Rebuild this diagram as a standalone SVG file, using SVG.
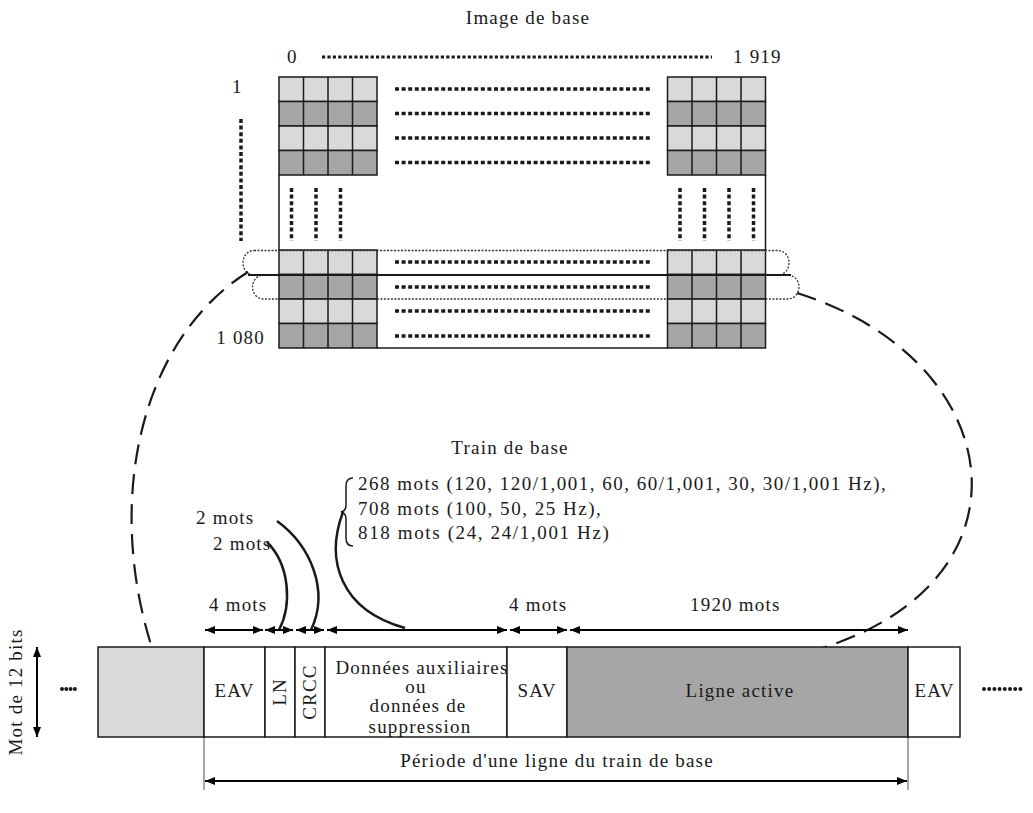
<svg xmlns="http://www.w3.org/2000/svg" width="1033" height="813" viewBox="0 0 1033 813">
<style>
text{font-family:"Liberation Serif","Times New Roman",serif;font-size:19px;fill:#1a1a1a;letter-spacing:1.2px}
.lt{fill:#d9d9d9;stroke:#1a1a1a;stroke-width:1.5}
.dk{fill:#a6a6a6;stroke:#1a1a1a;stroke-width:1.5}
.gl{stroke:#1a1a1a;stroke-width:1.5;fill:none}
.rowdot{stroke:#1a1a1a;stroke-width:3.5;stroke-dasharray:4 2.6;fill:none}
.vdot{stroke:#1a1a1a;stroke-width:3.5;stroke-dasharray:4 2.6;fill:none}
.loop{fill:none;stroke:#333;stroke-width:1.3;stroke-dasharray:2 1.5}
.dash{fill:none;stroke:#1a1a1a;stroke-width:2.2;stroke-dasharray:20 10}
.lead{fill:none;stroke:#1a1a1a;stroke-width:2.5}
.arr{stroke:#000;stroke-width:2;fill:none;marker-start:url(#ah);marker-end:url(#ah)}
.box{stroke:#1a1a1a;stroke-width:1.5}
.tick{stroke:#777;stroke-width:1.3}
.mid{text-anchor:middle}
</style>
<defs>
<marker id="ah" viewBox="0 0 10 8" refX="10" refY="4" markerWidth="10" markerHeight="8" markerUnits="userSpaceOnUse" orient="auto-start-reverse">
<path d="M0,0 L10,4 L0,8 Z" fill="#000"/>
</marker>
</defs>

<g id="image-de-base">
<text class="mid" x="528" y="24">Image de base</text>
<text x="287" y="63">0</text>
<text x="733" y="63">1 919</text>
<line x1="322" y1="57" x2="712" y2="57" stroke="#1a1a1a" stroke-width="3" stroke-dasharray="3.2 2.2"/>
<text x="232" y="93">1</text>
<line x1="241" y1="119" x2="241" y2="241" class="vdot"/>
<text x="265" y="344" text-anchor="end">1 080</text>

<path class="gl" d="M279,175 V250 M765.5,175 V250 M377,348 H667.5"/>

<g id="block-tl">
<rect class="lt" x="279" y="77" width="98" height="24.5"/>
<rect class="dk" x="279" y="101.5" width="98" height="24.5"/>
<rect class="lt" x="279" y="126" width="98" height="24.5"/>
<rect class="dk" x="279" y="150.5" width="98" height="24.5"/>
<path class="gl" d="M303.5,77 V175 M328,77 V175 M352.5,77 V175"/>
</g>
<g id="block-tr">
<rect class="lt" x="667.5" y="77" width="98" height="24.5"/>
<rect class="dk" x="667.5" y="101.5" width="98" height="24.5"/>
<rect class="lt" x="667.5" y="126" width="98" height="24.5"/>
<rect class="dk" x="667.5" y="150.5" width="98" height="24.5"/>
<path class="gl" d="M692,77 V175 M716.5,77 V175 M741,77 V175"/>
</g>
<g id="block-bl">
<rect class="lt" x="279" y="250" width="98" height="24.5"/>
<rect class="dk" x="279" y="274.5" width="98" height="24.5"/>
<rect class="lt" x="279" y="299" width="98" height="24.5"/>
<rect class="dk" x="279" y="323.5" width="98" height="24.5"/>
<path class="gl" d="M303.5,250 V348 M328,250 V348 M352.5,250 V348"/>
</g>
<g id="block-br">
<rect class="lt" x="667.5" y="250" width="98" height="24.5"/>
<rect class="dk" x="667.5" y="274.5" width="98" height="24.5"/>
<rect class="lt" x="667.5" y="299" width="98" height="24.5"/>
<rect class="dk" x="667.5" y="323.5" width="98" height="24.5"/>
<path class="gl" d="M692,250 V348 M716.5,250 V348 M741,250 V348"/>
</g>

<path class="rowdot" d="M395,89 H650 M395,113.5 H650 M395,138 H650 M395,162.5 H650 M395,262 H650 M395,287 H650 M395,311 H650 M395,336 H650"/>
<path class="vdot" d="M291.5,188 V241 M316,188 V241 M340.5,188 V241 M680,188 V241 M704.5,188 V241 M729,188 V241 M753.5,188 V241"/>

<rect class="loop" x="243" y="250.5" width="546" height="24.5" rx="11" ry="12"/>
<rect class="loop" x="252.5" y="275" width="546.5" height="24" rx="11" ry="12"/>
<line x1="248" y1="275" x2="791" y2="275" stroke="#1a1a1a" stroke-width="2"/>
</g>

<g id="connectors">
<path class="dash" d="M248,272 C140,340 105,500 152,648"/>
<path class="dash" d="M797,293 C1010,360 1040,580 822,648"/>
<path class="lead" d="M277,521 C310,545 330,590 311,630"/>
<path class="lead" d="M267,542 C290,565 292,605 279,630"/>
<path class="lead" d="M343,512 C325,560 340,610 405,628"/>
<path d="M353,478 Q346,478 346,486 L346,505 Q346,511 341,512 Q346,513 346,519 L346,538 Q346,546 353,546" fill="none" stroke="#1a1a1a" stroke-width="1.5"/>
<line class="arr" x1="205" y1="630" x2="263" y2="630"/>
<line class="arr" x1="265" y1="630" x2="293" y2="630"/>
<line class="arr" x1="296" y1="630" x2="324" y2="630"/>
<line class="arr" x1="327" y1="630" x2="507" y2="630"/>
<line class="arr" x1="510" y1="630" x2="567" y2="630"/>
<line class="arr" x1="570" y1="630" x2="908" y2="630"/>
<line class="arr" x1="37" y1="647" x2="37" y2="737"/>
<line class="arr" x1="205" y1="781" x2="907" y2="781"/>
<line class="tick" x1="204" y1="737" x2="204" y2="790"/>
<line class="tick" x1="908" y1="737" x2="908" y2="790"/>
</g>

<g id="train-labels">
<text class="mid" x="510" y="454">Train de base</text>
<text x="358" y="490" textLength="529" lengthAdjust="spacing">268 mots (120, 120/1,001, 60, 60/1,001, 30, 30/1,001 Hz),</text>
<text x="358" y="515" textLength="244" lengthAdjust="spacing">708 mots (100, 50, 25 Hz),</text>
<text x="358" y="539" textLength="252" lengthAdjust="spacing">818 mots (24, 24/1,001 Hz)</text>
<text x="196" y="524">2 mots</text>
<text x="213" y="550">2 mots</text>
<text x="209" y="611">4 mots</text>
<text x="509" y="611">4 mots</text>
<text x="690" y="611">1920 mots</text>
</g>

<g id="left-dots">
<path d="M62,689 H79" stroke="#1a1a1a" stroke-width="4" stroke-linecap="round" stroke-dasharray="0 4.3"/>
</g>
<g id="blank-word"><rect class="box" x="98" y="647" width="106" height="90" fill="#d9d9d9"/></g>
<g id="eav1"><rect class="box" x="204" y="647" width="61" height="90" fill="#fff"/><text class="mid" x="234.5" y="697">EAV</text></g>
<g id="ln"><rect class="box" x="265" y="647" width="30" height="90" fill="#fff"/><text class="mid" transform="translate(286,692) rotate(-90)">LN</text></g>
<g id="crcc"><rect class="box" x="295" y="647" width="30" height="90" fill="#fff"/><text class="mid" transform="translate(316,692) rotate(-90)">CRCC</text></g>
<g id="donnees"><rect class="box" x="325" y="647" width="182" height="90" fill="#fff"/>
<text class="mid" x="422" y="674">Données auxiliaires</text>
<text class="mid" x="416" y="693">ou</text>
<text class="mid" x="418" y="712">données de</text>
<text class="mid" x="420" y="733">suppression</text></g>
<g id="sav"><rect class="box" x="507" y="647" width="60" height="90" fill="#fff"/><text class="mid" x="537" y="697">SAV</text></g>
<g id="ligne-active"><rect class="box" x="567" y="647" width="341" height="90" fill="#a6a6a6"/><text class="mid" x="740" y="697">Ligne active</text></g>
<g id="eav2"><rect class="box" x="908" y="647" width="52" height="90" fill="#fff"/><text class="mid" x="934.5" y="697">EAV</text></g>
<g id="right-dots">
<path d="M984,689 H1021" stroke="#1a1a1a" stroke-width="4" stroke-linecap="round" stroke-dasharray="0 5.2"/>
</g>
<g id="labels-misc">
<text class="mid" transform="translate(22,692) rotate(-90)">Mot de 12 bits</text>
<text class="mid" x="557" y="767">Période d'une ligne du train de base</text>
</g>
</svg>
